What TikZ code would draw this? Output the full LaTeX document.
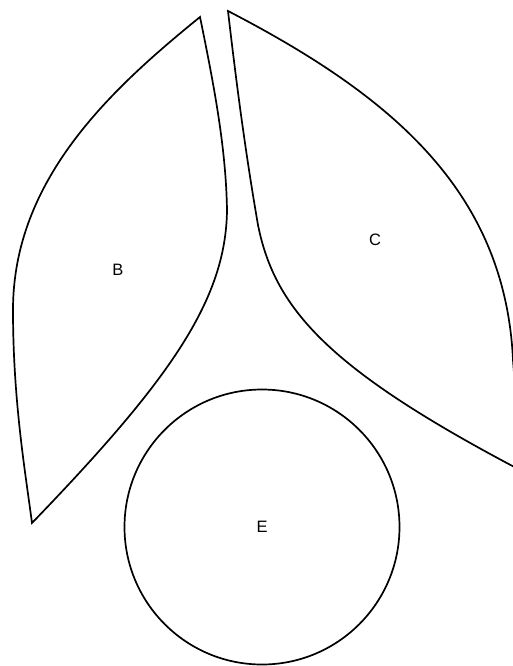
\documentclass[tikz,border=0pt]{standalone}
\usepackage{fontspec}
\setmainfont{Liberation Sans}
\usepackage{tikz}
\usetikzlibrary{positioning}

\begin{document}
\begin{tikzpicture}[
    x=1pt, y=-1pt,
    outline/.style={draw=black, line width=1.7pt, line join=miter},
    lbl/.style={font=\fontsize{16.5}{19}\selectfont, inner sep=0pt},
    blob/.style={circle, draw=black, line width=1.7pt, minimum size=275pt,
        font=\fontsize{16.5}{19}\selectfont}
]
    \useasboundingbox (0,0) rectangle (513,666);
    \clip (0,0) rectangle (513,666);

    % B
    \draw [outline] (200,17) .. controls (110,90) and (13,180) .. (13,310)
        .. controls (13,400) and (25,470) .. (32,523)
        .. controls (170,380) and (226,300) .. (227,210)
        .. controls (226,150) and (215,90) .. cycle;

    % C
    \draw [outline] (228,11) .. controls (390,95) and (505,190) .. (513,360)
        .. controls (516,400) .. (520,470)
        .. controls (330,370) and (275,310) .. (258,225)
        .. controls (245,150) and (236,80) .. cycle;

    \node [lbl] (b) at (118,270) {B};
    \node [lbl] (c) at (375,240) {C};
    \node [blob] (e) at (262,527) {E};
\end{tikzpicture}
\end{document}
